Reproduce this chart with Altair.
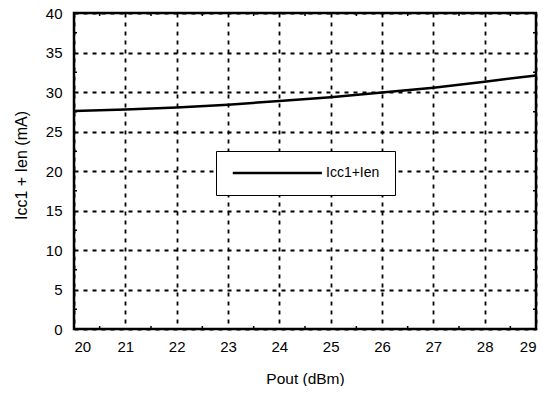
import altair as alt
import pandas as pd

# data
pout = [20, 21, 22, 23, 24, 25, 26, 27, 28, 29]
icc = [27.6, 27.8, 28.05, 28.4, 28.85, 29.35, 29.95, 30.55, 31.3, 32.1]
series_name = "Icc1+Ien"

x_ticks = list(range(20, 30))
y_ticks = list(range(0, 41, 5))
x_minor = [20.5 + i for i in range(9)]
y_minor = [2.5 + 5 * i for i in range(8)]

W, H = 462, 316
FONT = "Liberation Sans"

df = pd.DataFrame({"Pout": pout, "Icc": icc, "series": [series_name] * len(pout)})
dfx = pd.DataFrame({"xm": x_minor})
dfy = pd.DataFrame({"ym": y_minor})

xscale = alt.Scale(domain=[20, 29], nice=False, zero=False)
yscale = alt.Scale(domain=[0, 40], nice=False)
xaxis = alt.Axis(values=x_ticks, title="Pout (dBm)", format="d", labelOverlap=False)
yaxis = alt.Axis(values=y_ticks, title="Icc1 + Ien (mA)", labelOverlap=False, titleY=152)

line = alt.Chart(df).mark_line(strokeWidth=2.5).encode(
    x=alt.X("Pout:Q", scale=xscale, axis=xaxis),
    y=alt.Y("Icc:Q", scale=yscale, axis=yaxis),
    color=alt.Color("series:N",
                    scale=alt.Scale(domain=[series_name], range=["#000000"]),
                    legend=alt.Legend(
                        title=None, orient="none", legendX=142, legendY=138,
                        strokeColor="#000000", fillColor="#ffffff",
                        padding=15, symbolType="M-1,0H16", symbolSize=110,
                        symbolStrokeWidth=2.5, symbolStrokeColor="#000000",
                        labelOffset=81, labelFontSize=14, labelFont=FONT,
                        labelColor="#000000", cornerRadius=0,
                    )),
)

tick_len = 3
xb = alt.Chart(dfx).mark_rule(color="black", strokeWidth=1.5).encode(
    x=alt.X("xm:Q", scale=xscale, axis=xaxis), y=alt.value(H), y2=alt.value(H - tick_len))
xt = alt.Chart(dfx).mark_rule(color="black", strokeWidth=1.5).encode(
    x=alt.X("xm:Q", scale=xscale, axis=xaxis), y=alt.value(0), y2=alt.value(tick_len))
yl = alt.Chart(dfy).mark_rule(color="black", strokeWidth=1.5).encode(
    y=alt.Y("ym:Q", scale=yscale, axis=yaxis), x=alt.value(0), x2=alt.value(tick_len))
yr = alt.Chart(dfy).mark_rule(color="black", strokeWidth=1.5).encode(
    y=alt.Y("ym:Q", scale=yscale, axis=yaxis), x=alt.value(W), x2=alt.value(W - tick_len))

chart = alt.layer(line, xb, xt, yl, yr).properties(
    width=W, height=H,
    autosize=alt.AutoSizeParams(type="none"),
    padding={"left": 66, "top": 5, "right": 3, "bottom": 57},
).configure_view(
    stroke="#000000", strokeWidth=2.5,
).configure_axis(
    domain=False, ticks=False,
    grid=True, gridColor="#000000", gridDash=[4, 5], gridWidth=1.8, gridOpacity=1,
    labelFont=FONT, labelFontSize=15, labelColor="#000000",
    titleFont=FONT, titleFontSize=16, titleFontWeight="normal", titleColor="#000000",
).configure_axisX(
    labelPadding=10, titlePadding=17, titleFontSize=15.5,
).configure_axisY(
    labelPadding=12, titlePadding=16,
)

chart.save("out.html", embed_options={"renderer": "svg", "actions": False})
